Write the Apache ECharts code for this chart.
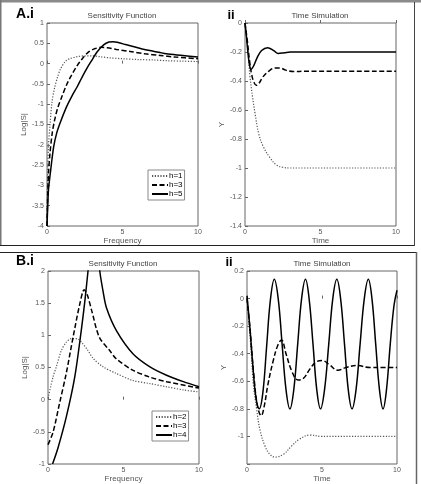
<!DOCTYPE html>
<html>
<head>
<meta charset="utf-8">
<script src="https://cdn.jsdelivr.net/npm/echarts@6/dist/echarts.min.js"></script>
<style>
  html, body { margin: 0; padding: 0; background: #fff; }
  #chart { width: 421px; height: 484px; }
</style>
</head>
<body>
<div id="chart"></div>
<script>
// A.i  sensitivity function, log|S| vs frequency
var aFreqH1 = [[0,-4],[0.02,-3.2],[0.05,-2.6],[0.1,-2.0],[0.2,-1.5],[0.33,-0.95],[0.5,-0.6],[0.7,-0.33],[0.9,-0.13],[1.2,0.05],[1.5,0.12],[2,0.17],[2.5,0.19],[3,0.19],[3.5,0.17],[4.2,0.14],[5,0.12],[6,0.1],[7,0.09],[8,0.07],[9,0.06],[10,0.05]];
var aFreqH3 = [[0,-4],[0.05,-3.2],[0.1,-2.7],[0.2,-2.2],[0.35,-1.7],[0.5,-1.4],[0.7,-1.1],[1.0,-0.8],[1.3,-0.52],[1.6,-0.3],[2.0,-0.05],[2.4,0.15],[2.8,0.3],[3.2,0.37],[3.6,0.4],[4.0,0.39],[4.6,0.35],[5.5,0.3],[6.5,0.24],[7.5,0.2],[8.5,0.16],[10,0.12]];
var aFreqH5 = [[0,-4],[0.05,-3.5],[0.1,-3.1],[0.22,-2.7],[0.44,-2.05],[0.65,-1.7],[0.88,-1.45],[1.3,-1.06],[1.65,-0.8],[2.0,-0.57],[2.3,-0.35],[2.65,-0.11],[3.0,0.1],[3.3,0.28],[3.75,0.46],[4.1,0.53],[4.4,0.54],[4.7,0.52],[5.2,0.47],[5.7,0.42],[6.3,0.36],[6.8,0.32],[7.4,0.28],[7.9,0.24],[9,0.2],[10,0.16]];

// A.ii  time simulation
var aTimeH1 = [[0,0],[0.15,-0.14],[0.33,-0.37],[0.5,-0.51],[0.66,-0.62],[0.9,-0.76],[1.2,-0.85],[1.66,-0.93],[2.1,-0.98],[2.5,-0.995],[3,-1],[10,-1]];
var aTimeH3 = [[0,0],[0.15,-0.12],[0.3,-0.26],[0.45,-0.36],[0.6,-0.41],[0.75,-0.43],[0.9,-0.42],[1.2,-0.37],[1.6,-0.33],[2.0,-0.31],[2.3,-0.31],[2.7,-0.325],[3.2,-0.335],[4,-0.333],[10,-0.333]];
var aTimeH5 = [[0,0],[0.1,-0.1],[0.2,-0.21],[0.3,-0.29],[0.4,-0.32],[0.55,-0.3],[0.8,-0.24],[1.1,-0.19],[1.5,-0.17],[1.9,-0.19],[2.2,-0.21],[2.6,-0.205],[3,-0.2],[4,-0.2],[10,-0.2]];

// B.i  sensitivity function
var bFreqH2 = [[0,0.02],[0.33,0.35],[0.55,0.51],[0.88,0.76],[1.2,0.89],[1.55,0.95],[2.0,0.94],[2.3,0.87],[2.6,0.78],[3.0,0.64],[3.65,0.51],[4.5,0.41],[5.6,0.3],[6.75,0.25],[7.85,0.2],[9,0.15],[10,0.12]];
var bFreqH3 = [[0,-0.7],[0.33,-0.51],[0.77,-0.05],[1.2,0.4],[1.66,0.97],[2.1,1.48],[2.4,1.71],[2.6,1.63],[2.9,1.38],[3.4,0.97],[4.1,0.76],[4.5,0.64],[5.6,0.46],[6.75,0.35],[7.85,0.28],[10,0.18]];
var bFreqH4 = [[0.3,-1],[0.66,-0.75],[1.22,-0.26],[1.77,0.35],[2.2,1.07],[2.45,1.55],[2.65,2.0],[2.9,2.5],[3.1,2.8],[3.25,2.5],[3.43,2.0],[3.65,1.68],[3.87,1.43],[4.54,1.07],[5.64,0.71],[6.75,0.51],[7.85,0.38],[8.96,0.28],[10,0.2]];

// B.ii  time simulation
var bTimeH2 = [[0,0],[0.15,-0.2],[0.3,-0.42],[0.42,-0.62],[0.64,-0.8],[0.86,-0.95],[1.2,-1.07],[1.53,-1.13],[1.86,-1.15],[2.42,-1.13],[2.97,-1.07],[3.5,-1.02],[4.2,-0.99],[5,-1.0],[10,-1.0]];
var bTimeH3 = [[0,0],[0.2,-0.22],[0.45,-0.55],[0.7,-0.78],[0.95,-0.85],[1.15,-0.78],[1.4,-0.62],[1.75,-0.45],[2.05,-0.34],[2.3,-0.3],[2.6,-0.4],[3.0,-0.53],[3.4,-0.59],[3.75,-0.58],[4.2,-0.51],[4.6,-0.46],[5.0,-0.45],[5.5,-0.48],[6.05,-0.52],[6.6,-0.5],[7.3,-0.485],[8.2,-0.5],[9,-0.5],[10,-0.5]];
var bTimeH4 = [[0,0.02],[0.2,-0.22],[0.4,-0.5],[0.6,-0.72],[0.82,-0.8],[1.06,-0.68],[1.3,-0.36],[1.56,-0.01],[1.82,0.14],[2.08,0.0],[2.34,-0.33],[2.6,-0.66],[2.86,-0.8],[3.12,-0.66],[3.38,-0.33],[3.64,0.0],[3.9,0.14],[4.14,0.0],[4.4,-0.33],[4.65,-0.66],[4.9,-0.8],[5.17,-0.66],[5.45,-0.33],[5.72,0.0],[5.99,0.14],[6.24,0.0],[6.5,-0.33],[6.75,-0.66],[7.0,-0.8],[7.27,-0.66],[7.54,-0.33],[7.82,0.0],[8.09,0.14],[8.33,0.0],[8.58,-0.33],[8.83,-0.66],[9.07,-0.8],[9.3,-0.66],[9.55,-0.33],[9.8,-0.05],[10,0.06]];

var legendA = ['h=1', 'h=3', 'h=5'];
var legendB = ['h=2', 'h=3', 'h=4'];

var FONT = 'Liberation Sans, Arial, sans-serif';
var myChart = echarts.init(document.getElementById('chart'), null, { renderer: 'canvas' });

function xAx(grid, name) {
    return {
        type: 'value', gridIndex: grid, min: 0, max: 10, interval: 5,
        name: name, nameLocation: 'middle', nameGap: 11,
        nameTextStyle: { fontSize: 8, color: '#555', fontFamily: FONT },
        axisLine: { show: false },
        axisTick: { inside: true, length: 3, lineStyle: { color: '#666' } },
        axisLabel: { fontSize: 7, color: '#555', margin: 3, fontFamily: FONT },
        splitLine: { show: false }
    };
}
function yAx(grid, name, min, max, step, gap, fmt) {
    return {
        type: 'value', gridIndex: grid, min: min, max: max, interval: step,
        name: name, nameLocation: 'middle', nameGap: gap,
        nameTextStyle: { fontSize: 8, color: '#555', fontFamily: FONT },
        axisLine: { show: false },
        axisTick: { inside: true, length: 3, lineStyle: { color: '#666' } },
        axisLabel: { fontSize: 7, color: '#555', margin: 3, fontFamily: FONT, formatter: fmt },
        splitLine: { show: false }
    };
}

var styles = {
    dotted: { type: [1.2, 1.6], width: 1.2, color: '#555' },
    dashed: { type: [5, 2.5], width: 1.5, color: '#000' },
    solid: { type: 'solid', width: 1.5, color: '#000' }
};
function line(name, data, grid, style, smooth) {
    return {
        type: 'line', name: name, data: data,
        xAxisIndex: grid, yAxisIndex: grid,
        showSymbol: false, symbol: 'none', smooth: smooth, clip: true,
        lineStyle: styles[style], itemStyle: { color: styles[style].color }
    };
}

function legend(data, left, top) {
    return {
        data: data, left: left, top: top, orient: 'vertical',
        itemWidth: 16, itemHeight: 8, itemGap: 1, padding: [2, 2, 2, 3],
        borderColor: '#888', borderWidth: 1, backgroundColor: '#fff',
        itemStyle: { opacity: 0 },
        textStyle: { fontSize: 8, color: '#000', fontFamily: FONT, padding: [0, 0, 0, -4] },
        selectedMode: false
    };
}

function txt(text, x, y, size, weight, color) {
    return { type: 'text', x: x, y: y, z: 10,
        style: { text: text, fill: color, font: weight + ' ' + size + 'px ' + FONT,
                 textAlign: 'center', textVerticalAlign: 'middle' } };
}

var option = {
    animation: false,
    backgroundColor: '#fff',
    grid: [
        { left: 47, top: 23, width: 151, height: 203, show: true, borderColor: '#666', borderWidth: 1 },
        { left: 245, top: 23, width: 151, height: 203, show: true, borderColor: '#666', borderWidth: 1 },
        { left: 48, top: 271, width: 151, height: 196, show: true, borderColor: '#666', borderWidth: 1 },
        { left: 247, top: 271, width: 150, height: 196, show: true, borderColor: '#666', borderWidth: 1 }
    ],
    xAxis: [ xAx(0, 'Frequency'), xAx(1, 'Time'), xAx(2, 'Frequency'), xAx(3, 'Time') ],
    yAxis: [
        yAx(0, 'Log|S|', -4, 1, 0.5, 12),
        yAx(1, 'Y', -1.4, 0, 0.2, 13),
        yAx(2, 'Log|S|', -1, 2, 0.5, 12),
        yAx(3, 'Y', -1.2, 0.2, 0.2, 13, function (v) { return v <= -1.15 ? '' : String(Math.round(v * 10) / 10); })
    ],
    legend: [ legend(legendA, 148, 170), legend(legendB, 152, 411) ],
    series: [
        line('h=1', aFreqH1, 0, 'dotted', 0.3),
        line('h=3', aFreqH3, 0, 'dashed', 0.3),
        line('h=5', aFreqH5, 0, 'solid', 0.3),
        line('h=1', aTimeH1, 1, 'dotted', 0.4),
        line('h=3', aTimeH3, 1, 'dashed', 0.4),
        line('h=5', aTimeH5, 1, 'solid', 0.4),
        line('h=2', bFreqH2, 2, 'dotted', 0.3),
        line('h=3', bFreqH3, 2, 'dashed', 0.3),
        line('h=4', bFreqH4, 2, 'solid', 0.3),
        line('h=2', bTimeH2, 3, 'dotted', 0.4),
        line('h=3', bTimeH3, 3, 'dashed', 0.4),
        line('h=4', bTimeH4, 3, 'solid', 0.4)
    ],
    graphic: [
        // panel frames
        { type: 'rect', shape: { x: 0, y: 0, width: 421, height: 2.5 }, style: { fill: '#8a8a8a' } },
        { type: 'rect', shape: { x: 0, y: 0, width: 1.5, height: 246 }, style: { fill: '#777' } },
        { type: 'line', shape: { x1: 0, y1: 245.5, x2: 415, y2: 245.5 }, style: { stroke: '#222', lineWidth: 1 } },
        { type: 'line', shape: { x1: 414.5, y1: 2, x2: 414.5, y2: 246 }, style: { stroke: '#444', lineWidth: 1 } },
        { type: 'line', shape: { x1: 0, y1: 252.5, x2: 417, y2: 252.5 }, style: { stroke: '#222', lineWidth: 1 } },
        { type: 'line', shape: { x1: 416.5, y1: 252, x2: 416.5, y2: 484 }, style: { stroke: '#666', lineWidth: 1.5 } },
        // panel labels
        txt('A.i', 25, 14, 14, 'bold', '#000'),
        txt('ii', 231, 15, 13, 'bold', '#000'),
        txt('B.i', 25, 261, 14, 'bold', '#000'),
        txt('ii', 229, 262, 13, 'bold', '#000'),
        // plot titles
        txt('Sensitivity Function', 122, 16, 8, 'normal', '#444'),
        txt('Time Simulation', 320, 16, 8, 'normal', '#444'),
        txt('Sensitivity Function', 123, 264, 8, 'normal', '#444'),
        txt('Time Simulation', 322, 264, 8, 'normal', '#444')
    ]
};

myChart.setOption(option);
</script>
</body>
</html>
